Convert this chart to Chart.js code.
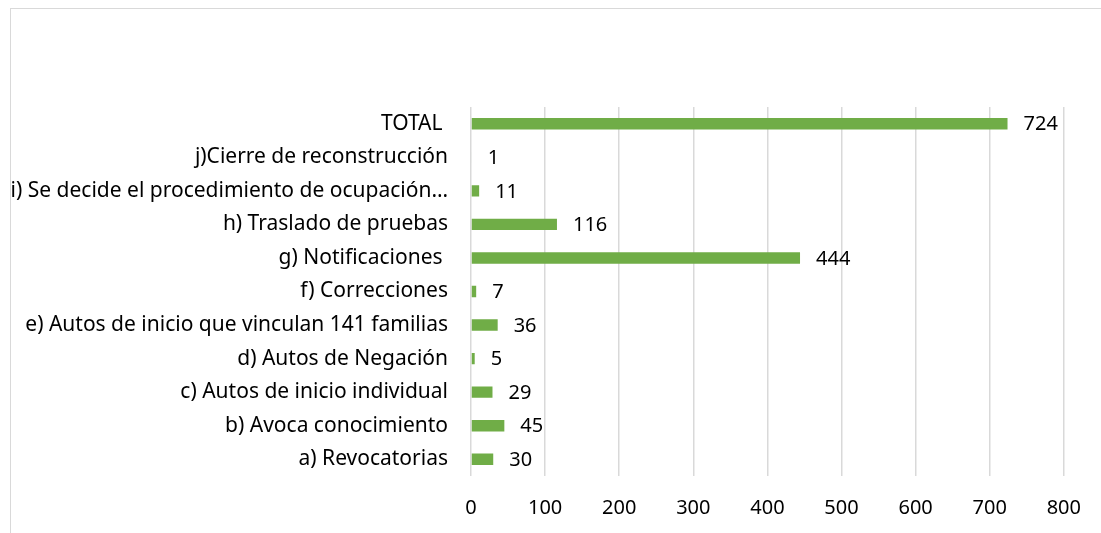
<!DOCTYPE html>
<html>
<head>
<meta charset="utf-8">
<script src="https://cdn.jsdelivr.net/npm/chart.js@4"></script>
<style>
  body { margin: 0; background: #fff; }
  #wrap { position: relative; width: 1101px; height: 533px; }
  #frame { position: absolute; left: 10px; top: 8px; width: 1100px; height: 540px; border: 1px solid #d9d9d9; box-sizing: border-box; }
  canvas { position: absolute; left: 0; top: 0; }
</style>
</head>
<body>
<div id="wrap">
  <div id="frame"></div>
  <canvas id="myChart" width="1101" height="533"></canvas>
</div>
<script>
// categorias de arriba hacia abajo
const categorias = [
    'TOTAL ',
    'j)Cierre de reconstrucción',
    'i) Se decide el procedimiento de ocupación…',
    'h) Traslado de pruebas',
    'g) Notificaciones ',
    'f) Correcciones',
    'e) Autos de inicio que vinculan 141 familias',
    'd) Autos de Negación',
    'c) Autos de inicio individual',
    'b) Avoca conocimiento',
    'a) Revocatorias'
];
const valores = [724, 1, 11, 116, 444, 7, 36, 5, 29, 45, 30];
const ticksX = [0, 100, 200, 300, 400, 500, 600, 700, 800];

const fuente = "'Noto Sans', sans-serif";

// etiquetas de valor al final de cada barra
const etiquetas = {
    id: 'etiquetas',
    afterDatasetsDraw(chart) {
        const ctx = chart.ctx;
        const meta = chart.getDatasetMeta(0);
        ctx.save();
        ctx.font = "20px " + fuente;
        ctx.fillStyle = '#000';
        ctx.textAlign = 'left';
        ctx.textBaseline = 'middle';
        meta.data.forEach(function (bar, i) {
            ctx.fillText(String(valores[i]), bar.x + 16, bar.y + 1);
        });
        ctx.restore();
    }
};

const ctx = document.getElementById('myChart');

new Chart(ctx, {
    type: 'bar',
    data: {
        labels: categorias,
        datasets: [{
            data: valores,
            backgroundColor: '#70ad47',
            borderWidth: 0,
            barPercentage: 0.34,
            categoryPercentage: 1
        }]
    },
    options: {
        indexAxis: 'y',
        responsive: false,
        animation: false,
        layout: { padding: { top: 107, right: 35, left: 0, bottom: 0 } },
        plugins: {
            legend: { display: false },
            tooltip: { enabled: false }
        },
        scales: {
            x: {
                min: 0,
                max: 800,
                afterBuildTicks: function (axis) {
                    axis.ticks = ticksX.map(v => ({ value: v }));
                },
                afterFit: function (axis) { axis.height = 57; },
                grid: { color: '#d9d9d9', lineWidth: 1.5, drawTicks: false },
                border: { display: false },
                ticks: { color: '#000', padding: 20, font: { family: fuente, size: 20 } }
            },
            y: {
                afterFit: function (axis) { axis.width = 471; },
                grid: { display: false, drawTicks: false },
                border: { display: false },
                ticks: { color: '#000', padding: 23, autoSkip: false, font: { family: fuente, size: 21 } }
            }
        }
    },
    plugins: [etiquetas]
});
</script>
</body>
</html>
